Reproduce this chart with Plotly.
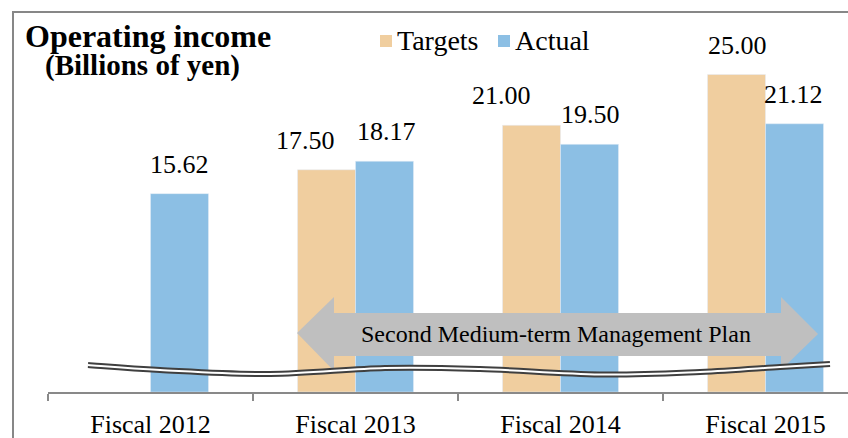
import plotly.graph_objects as go

# ---- data ----
categories = ["Fiscal 2012", "Fiscal 2013", "Fiscal 2014", "Fiscal 2015"]
targets = [None, 17.50, 21.00, 25.00]
actual = [15.62, 18.17, 19.50, 21.12]
series_names = ["Targets", "Actual"]
title_text = "Operating income"
subtitle_text = "(Billions of yen)"
plan_text = "Second Medium-term Management Plan"

# ---- style ----
C_TARGET = "#F0CE9F"
C_ACTUAL = "#8CBFE4"
FONT = "Liberation Serif"
W, H = 848, 438
PL, PR, PT, PB = 48, 848, 11, 392
CAT_W = 205
label_nudge_t = [0, -21, -30, 1]
label_nudge_a = [0, 2, 1, -1]


def px(x):
    return (x - PL) / (PR - PL)


def py(y):
    return (PB - y) / (PB - PT)


fig = go.Figure()
fig.add_bar(x=categories, y=targets, name=series_names[0], marker_color=C_TARGET, showlegend=False)
fig.add_bar(x=categories, y=actual, name=series_names[1], marker_color=C_ACTUAL, showlegend=False)

annotations = []
for i, c in enumerate(categories):
    for vals, off, nud in ((targets, -29, label_nudge_t), (actual, 29, label_nudge_a)):
        v = vals[i]
        if v is None:
            continue
        annotations.append(dict(
            x=c, y=v, xref="x", yref="y", text=f"{v:.2f}", showarrow=False,
            xshift=off + nud[i], yanchor="bottom", yshift=13,
            font=dict(family=FONT, size=26, color="black")))

annotations.append(dict(x=px(23), y=py(44), xref="paper", yref="paper", text=f"<b>{title_text}</b>",
                        showarrow=False, xanchor="left", yanchor="middle", yshift=8,
                        font=dict(family=FONT, size=32, color="black")))
annotations.append(dict(x=px(43), y=py(73), xref="paper", yref="paper", text=f"<b>{subtitle_text}</b>",
                        showarrow=False, xanchor="left", yanchor="middle", yshift=7,
                        font=dict(family=FONT, size=29, color="black")))
annotations.append(dict(x=px(556), y=py(334), xref="paper", yref="paper", text=plan_text,
                        showarrow=False, xanchor="center", yanchor="middle",
                        font=dict(family=FONT, size=24, color="black")))

shapes = []
# frame
shapes.append(dict(type="rect", xref="paper", yref="paper", x0=px(13), x1=px(900), y0=py(480), y1=py(12),
                   line=dict(color="#878787", width=2), fillcolor="rgba(0,0,0,0)", layer="below"))

# legend (swatches + labels)
legend_items = [(series_names[0], C_TARGET, 380, 395), (series_names[1], C_ACTUAL, 498, 513)]
for name, col, sx, tx in legend_items:
    shapes.append(dict(type="rect", xref="paper", yref="paper", x0=px(sx), x1=px(sx + 12),
                       y0=py(47), y1=py(35), fillcolor=col, line=dict(width=0)))
    annotations.append(dict(x=px(tx), y=py(40), xref="paper", yref="paper", text=name,
                            showarrow=False, xanchor="left", yanchor="middle",
                            font=dict(family=FONT, size=28, color="black")))

# double arrow
arrow_pts = [(297, 333), (334, 297), (334, 313), (781, 313), (781, 297), (818, 334),
             (781, 370), (781, 356), (334, 356), (334, 371)]
path = "M " + " L ".join(f"{px(x):.5f},{py(y):.5f}" for x, y in arrow_pts) + " Z"
shapes.append(dict(type="path", xref="paper", yref="paper", path=path, fillcolor="#BFBFBF",
                   line=dict(width=0), layer="above"))

# wavy break line (Catmull-Rom -> cubic bezier)
wave = [(88, 365), (160, 370), (270, 374), (385, 368), (480, 369), (600, 374.5),
        (700, 372), (780, 367), (830, 364)]


def bez_path(pts):
    P = [(px(x), py(y)) for x, y in pts]
    s = f"M {P[0][0]:.5f},{P[0][1]:.5f}"
    for i in range(len(P) - 1):
        p0 = P[i - 1] if i > 0 else P[i]
        p1, p2 = P[i], P[i + 1]
        p3 = P[i + 2] if i + 2 < len(P) else P[i + 1]
        c1 = (p1[0] + (p2[0] - p0[0]) / 6, p1[1] + (p2[1] - p0[1]) / 6)
        c2 = (p2[0] - (p3[0] - p1[0]) / 6, p2[1] - (p3[1] - p1[1]) / 6)
        s += f" C {c1[0]:.5f},{c1[1]:.5f} {c2[0]:.5f},{c2[1]:.5f} {p2[0]:.5f},{p2[1]:.5f}"
    return s


wp = bez_path(wave)
shapes.append(dict(type="path", xref="paper", yref="paper", path=wp,
                   line=dict(color="#3F3F3F", width=6), layer="above"))
shapes.append(dict(type="path", xref="paper", yref="paper", path=wp,
                   line=dict(color="white", width=2), layer="above"))

fig.update_layout(
    width=W, height=H,
    margin=dict(l=PL, r=W - PR, t=PT, b=H - PB),
    paper_bgcolor="white", plot_bgcolor="white",
    barmode="group", bargap=1 - 116 / CAT_W, bargroupgap=0,
    font=dict(family=FONT, size=25, color="black"),
    showlegend=False,
    annotations=annotations,
    shapes=shapes,
)
fig.update_xaxes(type="category", range=[-0.5, -0.5 + (PR - PL) / CAT_W], showline=True,
                 linecolor="#898989", linewidth=1.5, ticks="outside", tickson="boundaries",
                 ticklen=7, tickwidth=1.5, tickcolor="#898989", showgrid=False,
                 tickfont=dict(family=FONT, size=26, color="black"), ticklabelstandoff=8)
fig.update_yaxes(range=[0, 30], visible=False, showgrid=False)

fig.write_html("out.html", config={"displayModeBar": False},
               post_script="document.body.style.margin='0';document.body.style.overflow='hidden';")
